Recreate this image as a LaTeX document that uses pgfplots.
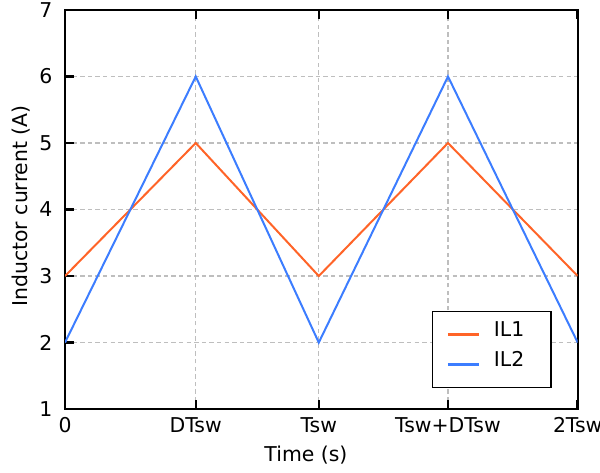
\documentclass[border=0pt]{standalone}
\usepackage{fontspec}
\setmainfont{DejaVu Sans}
\usepackage{pgfplots}
\pgfplotsset{compat=1.18}

\definecolor{ilorange}{RGB}{255,100,40}
\definecolor{ilblue}{RGB}{60,125,255}
\definecolor{gridgray}{RGB}{190,190,190}

\begin{document}
\begin{tikzpicture}[font=\fontsize{10.2}{12}\selectfont]
\begin{axis}[
    scale only axis,
    width=256.3pt,
    height=199.5pt,
    xmin=0, xmax=2,
    ymin=1, ymax=7,
    xtick={0,0.51,0.99,1.494,2},
    xticklabels={0,DTsw,Tsw,Tsw+DTsw,2Tsw},
    ytick={1,2,3,4,5,6,7},
    xtick pos=both,
    ytick pos=left,
    tick align=inside,
    major tick length=4.5pt,
    every tick/.style={black, line width=1.2pt},
    axis line style={line width=0.9pt},
    /pgf/number format/assume math mode=true,
    yticklabel style={xshift=-2.8pt},
    xticklabel style={yshift=-0.8pt},
    grid=major,
    major grid style={gridgray, line width=0.6pt, dash pattern=on 2.2pt off 1.6pt},
    xlabel={Time (s)},
    ylabel={Inductor current (A)},
    xlabel style={at={(rel axis cs:0.47,0)}, anchor=base, yshift=-26pt},
    ylabel style={at={(rel axis cs:-0.0741,0.509)}, anchor=base},
    legend style={
        at={(rel axis cs:1,0)}, anchor=south east,
        xshift=-13pt, yshift=10.5pt,
        draw=black, line width=0.75pt, fill=white,
        inner xsep=7pt, inner ysep=5.8pt,
        row sep=3.6pt, column sep=6.5pt,
        nodes={inner sep=0pt, text height=7pt, text depth=4.4pt},
    },
    legend cell align=left,
    legend image code/.code={
        \draw[#1, line width=1.5pt] (0pt,0pt) -- (15.8pt,0pt);
    },
]

\addplot[ilorange, line width=1pt] coordinates {
    (0,3) (0.51,5) (0.99,3) (1.494,5) (2,3)
};
\addlegendentry{\makebox[21.5pt][l]{IL1}}

\addplot[ilblue, line width=1pt] coordinates {
    (0,2) (0.51,6) (0.99,2) (1.494,6) (2,2)
};
\addlegendentry{\makebox[21.5pt][l]{IL2}}

\coordinate (sw) at (rel axis cs:0,0);
\coordinate (ne) at (rel axis cs:1,1);
\end{axis}
\pgfresetboundingbox
\path[use as bounding box] ([shift={(-32.5pt,-31.5pt)}]sw) rectangle ([shift={(11.15pt,5pt)}]ne);
\end{tikzpicture}
\end{document}
